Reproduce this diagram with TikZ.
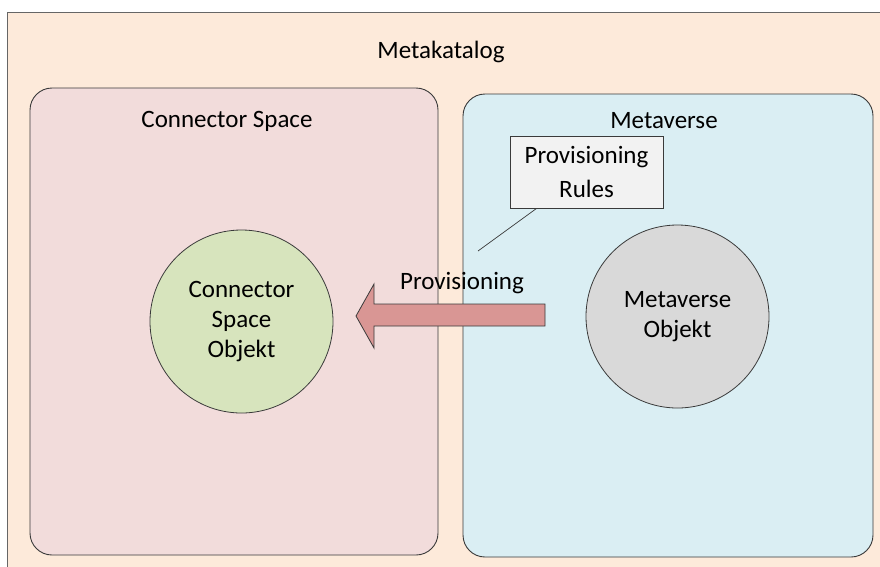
\documentclass[tikz,border=0pt]{standalone}
\usepackage{fontspec}
\setmainfont{Carlito}
\definecolor{catbg}{HTML}{FDEADA}
\definecolor{csbg}{HTML}{F2DCDB}
\definecolor{mvbg}{HTML}{DAEEF3}
\definecolor{csobj}{HTML}{D7E4BD}
\definecolor{mvobj}{HTML}{D9D9D9}
\definecolor{arrowfill}{HTML}{D99694}
\definecolor{notefill}{HTML}{F2F2F2}
\definecolor{edge}{HTML}{3A3A3A}
\tikzset{
  panel/.style={draw=edge, line width=0.9pt, rounded corners=22pt, inner sep=0pt},
  objcircle/.style={circle, draw=edge, line width=0.8pt, minimum size=183pt, inner sep=0pt,
    align=center, font=\fontsize{25}{30}\selectfont},
  title/.style={font=\fontsize{25}{30}\selectfont, inner sep=0pt},
  notebox/.style={draw=edge, line width=0.7pt, fill=notefill, minimum width=153pt, minimum height=72pt,
    align=center, font=\fontsize{25}{34}\selectfont, inner sep=0pt},
}
\begin{document}
\begin{tikzpicture}[x=1pt,y=-1pt]
\useasboundingbox (0,0) rectangle (880,566);
\clip (0,0) rectangle (880,566);
% catalogue frame
\fill[white] (0,0) rectangle (880,566);
\draw[fill=catbg, draw=black!60, line width=0.9pt] (7,12) rectangle (900,600);
\node[title] (cat) at (441,52) {Metakatalog};
% the two spaces
\node[panel, fill=csbg, minimum width=408pt, minimum height=467pt] (cs) at (234,321.5) {};
\node[panel, fill=mvbg, minimum width=410pt, minimum height=463pt] (mv) at (668,325.5) {};
\node[title] (cstitle) at (227,121) {Connector Space};
\node[title] (mvtitle) at (664,121) {Metaverse};
% objects
\node[objcircle, fill=csobj] (cso) at (241.5,321.5) {Connector\\Space\\Objekt};
\node[objcircle, fill=mvobj] (mvo) at (677.5,316.5) {Metaverse\\Objekt};
% provisioning arrow
\draw[fill=arrowfill, draw=edge, line width=0.8pt, line join=miter]
  (356,316) -- (374,284) -- (374,304) -- (545,304) -- (545,326) -- (374,326) -- (374,348) -- cycle;
\node[title] (prov) at (462,283) {Provisioning};
% rules callout
\node[notebox] (rules) at (586.5,172) {Provisioning\\Rules};
\coordinate (pointer) at (478,251);
\draw[edge, line width=0.7pt] (rules.south west) ++(27,0) -- (pointer);
\end{tikzpicture}
\end{document}
